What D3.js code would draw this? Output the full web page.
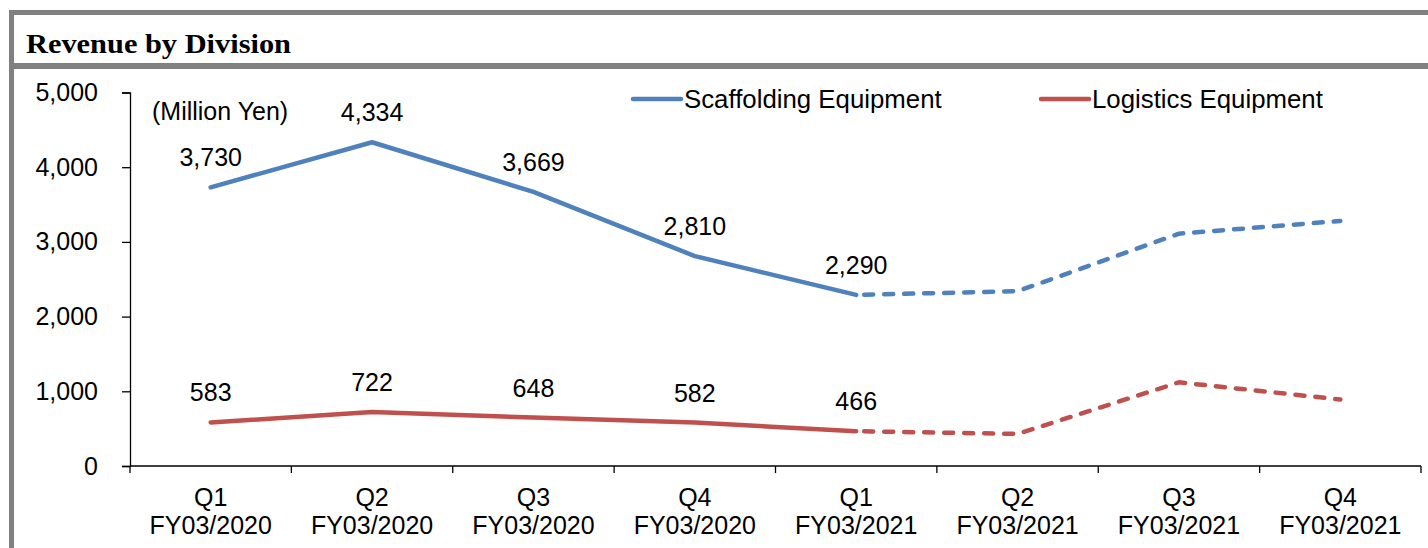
<!DOCTYPE html>
<html><head><meta charset="utf-8">
<script src="https://cdn.jsdelivr.net/npm/d3@7"></script>
<style>body{margin:0;background:#fff}svg{display:block}</style>
</head><body>
<script>
const quarters = ["Q1","Q2","Q3","Q4","Q1","Q2","Q3","Q4"];
const fiscalYears = ["FY03/2020","FY03/2020","FY03/2020","FY03/2020","FY03/2021","FY03/2021","FY03/2021","FY03/2021"];
const scaffolding = [3730, 4334, 3669, 2810, 2290, 2340, 3110, 3280];
const logistics = [583, 722, 648, 582, 466, 430, 1120, 890];
const actualCount = 5; // first 5 points are actuals, rest forecast (dashed)
const yTicks = [0, 1000, 2000, 3000, 4000, 5000];
const seriesNames = ["Scaffolding Equipment", "Logistics Equipment"];
const seriesColors = ["#4F81BD", "#C0504D"];

(function () {
const W = 1428, H = 548;
const svg = d3.select("body").append("svg").attr("width", W).attr("height", H);
const font = "'Liberation Sans', Arial, sans-serif";
const fs = 25;

// frame
svg.append("rect").attr("x", 9).attr("y", 10).attr("width", W - 9).attr("height", 5).attr("fill", "#808080");
svg.append("rect").attr("x", 9).attr("y", 10).attr("width", 5).attr("height", H - 10).attr("fill", "#808080");
svg.append("rect").attr("x", 9).attr("y", 63).attr("width", W - 9).attr("height", 6).attr("fill", "#808080");
svg.append("text").attr("x", 26).attr("y", 53).text("Revenue by Division")
  .attr("font-family", "'Liberation Serif', 'DejaVu Serif', serif").attr("font-weight", "bold")
  .attr("font-size", 27).attr("textLength", 265).attr("lengthAdjust", "spacingAndGlyphs").attr("fill", "#000");

const pLeft = 130, pRight = 1421, pTop = 92.5, pBottom = 466;
const x = d3.scaleBand().domain(d3.range(quarters.length)).range([pLeft, pRight]);
const y = d3.scaleLinear().domain([0, 5000]).range([pBottom, pTop]);

// y axis
const yAxis = svg.append("g").attr("transform", `translate(${pLeft},0)`)
  .call(d3.axisLeft(y).tickValues(yTicks).tickFormat(d3.format(",")).tickSize(8).tickPadding(24));
yAxis.selectAll("text").attr("font-family", font).attr("font-size", fs).attr("fill", "#000");
yAxis.selectAll("line,path").attr("stroke", "#000").attr("stroke-width", 1.3);

// x axis
const xAxis = svg.append("g").attr("transform", `translate(0,${pBottom})`);
xAxis.append("line").attr("x1", pLeft).attr("x2", pRight).attr("y1", 0).attr("y2", 0)
  .attr("stroke", "#000").attr("stroke-width", 1.3);
const boundaries = d3.range(quarters.length + 1).map(i => i < quarters.length ? x(i) : x(quarters.length - 1) + x.bandwidth());
xAxis.selectAll("line.tk").data(boundaries).join("line").attr("class", "tk")
  .attr("x1", d => d).attr("x2", d => d).attr("y1", 0).attr("y2", 7).attr("stroke", "#000").attr("stroke-width", 1.3);
const xl = xAxis.selectAll("g.lbl").data(quarters).join("g").attr("class", "lbl")
  .attr("transform", (d, i) => `translate(${x(i) + x.bandwidth() / 2},0)`);
xl.append("text").attr("y", 40).attr("text-anchor", "middle").text(d => d)
  .attr("font-family", font).attr("font-size", fs);
xl.append("text").attr("y", 68).attr("text-anchor", "middle").text((d, i) => fiscalYears[i])
  .attr("font-family", font).attr("font-size", fs);

// lines
const cx = i => x(i) + x.bandwidth() / 2;
const line = d3.line().x(d => cx(d.i)).y(d => y(d.v));
[scaffolding, logistics].forEach((vals, s) => {
  const pts = vals.map((v, i) => ({ i, v }));
  svg.append("path").attr("d", line(pts.slice(0, actualCount))).attr("fill", "none")
    .attr("stroke", seriesColors[s]).attr("stroke-width", 4.5).attr("stroke-linejoin", "round").attr("stroke-linecap", "round");
  svg.append("path").attr("d", line(pts.slice(actualCount - 1))).attr("fill", "none")
    .attr("stroke", seriesColors[s]).attr("stroke-width", 4.5).attr("stroke-dasharray", "9,11")
    .attr("stroke-dashoffset", -8).attr("stroke-linecap", "round").attr("stroke-linejoin", "round");
  svg.selectAll(null).data(pts.slice(0, actualCount)).join("text")
    .attr("x", d => cx(d.i)).attr("y", d => y(d.v) - 21).attr("text-anchor", "middle")
    .text(d => d3.format(",")(d.v)).attr("font-family", font).attr("font-size", fs);
});

// unit label
svg.append("text").attr("x", 152).attr("y", 120).text("(Million Yen)")
  .attr("font-family", font).attr("font-size", fs);

// legend
const legX = [633, 1041];
seriesNames.forEach((n, s) => {
  svg.append("line").attr("x1", legX[s]).attr("x2", legX[s] + 48).attr("y1", 99).attr("y2", 99)
    .attr("stroke", seriesColors[s]).attr("stroke-width", 4.5).attr("stroke-linecap", "round");
  svg.append("text").attr("x", legX[s] + 51).attr("y", 108).text(n)
    .attr("font-family", font).attr("font-size", 25.8);
});
})();
</script>
</body></html>
